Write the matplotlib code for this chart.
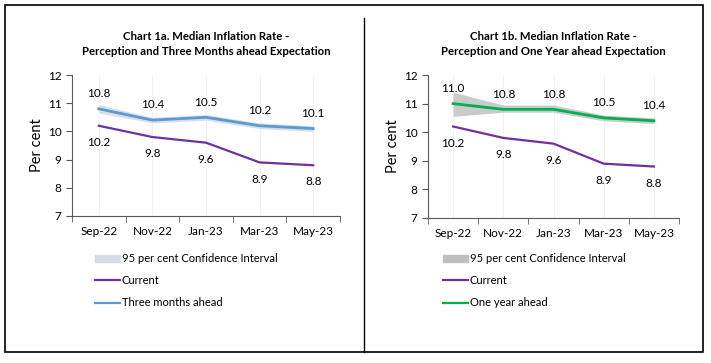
import numpy as np
import matplotlib
matplotlib.use('Agg')
import matplotlib.pyplot as plt
from matplotlib.patches import Rectangle
from matplotlib.lines import Line2D

plt.rcParams['font.family'] = ['Lato', 'DejaVu Sans']

## Data
months = ['Sep-22', 'Nov-22', 'Jan-23', 'Mar-23', 'May-23']
current = [10.2, 9.8, 9.6, 8.9, 8.8]
three_m = [10.8, 10.4, 10.5, 10.2, 10.1]
three_m_lo = [10.65, 10.3, 10.4, 10.1, 10.0]
three_m_hi = [10.95, 10.5, 10.6, 10.3, 10.2]
one_y = [11.0, 10.8, 10.8, 10.5, 10.4]
one_y_lo = [10.55, 10.7, 10.7, 10.4, 10.3]
one_y_hi = [11.4, 10.95, 10.95, 10.6, 10.5]

titles = ['Chart 1a. Median Inflation Rate -\nPerception and Three Months ahead Expectation',
          'Chart 1b. Median Inflation Rate -\nPerception and One Year ahead Expectation']
exp_names = ['Three months ahead', 'One year ahead']

c_cur = '#7030A0'
c_exp = ['#5B9BD5', '#00B050']
c_band = ['#D6DCE5', '#BFBFBF']

W, H = 711, 363
fig = plt.figure(figsize=(W / 100, H / 100), dpi=100)

def px(x0, y0, x1, y1):
    # pixel box (top-left origin) -> figure fraction
    return [x0 / W, 1 - y1 / H, (x1 - x0) / W, (y1 - y0) / H]

boxes = [px(72, 75, 340, 216), px(428, 75, 679, 218)]
exp_data = [(three_m, three_m_lo, three_m_hi), (one_y, one_y_lo, one_y_hi)]
leg_x = [95, 443]

for i in range(2):
    ax = fig.add_axes(boxes[i])
    x = np.arange(len(months))
    ev, lo, hi = exp_data[i]
    ax.fill_between(x, lo, hi, color=c_band[i], lw=0, alpha=0.9 if i == 0 else 0.8)
    ax.plot(x, current, color=c_cur, lw=1.6)
    ax.plot(x, ev, color=c_exp[i], lw=2.0)
    for xi, v in zip(x, ev):
        ax.annotate('%.1f' % v, (xi, v), xytext=(0, 11), textcoords='offset points',
                    ha='center', va='center', fontsize=8.5)
    for xi, v in zip(x, current):
        ax.annotate('%.1f' % v, (xi, v), xytext=(0, -12), textcoords='offset points',
                    ha='center', va='center', fontsize=8.5)
    ax.set_xlim(-0.5, 4.5)
    ax.set_ylim(7, 12)
    ax.set_yticks(range(7, 13))
    ax.set_xticks(x)
    ax.set_xticklabels(months)
    ax.set_xticks(np.arange(-0.5, 5, 1), minor=True)
    ax.tick_params(axis='x', which='major', length=0, labelsize=8.5, pad=7)
    ax.tick_params(axis='x', which='minor', length=4, direction='out', color='#595959')
    ax.tick_params(axis='y', length=4, color='#595959', labelsize=8.5)
    for xi in x:
        ax.axvline(xi, color='#F2F2F2', lw=0.8, zorder=0)
    for s in ['top', 'right']:
        ax.spines[s].set_visible(False)
    for s in ['left', 'bottom']:
        ax.spines[s].set_color('#595959')
    ax.set_ylabel('Per cent', fontsize=10.5, labelpad=3)
    cx = (boxes[i][0] + boxes[i][2] / 2) * W
    fig.text(cx / W, 1 - 44 / H, titles[i], ha='center', va='center',
             fontsize=8.2, fontweight='bold', linespacing=1.45)

    # legend
    lx = leg_x[i]
    fig.patches.append(Rectangle((lx / W, 1 - 262 / H), 25 / W, 7 / H,
                                 transform=fig.transFigure, color=c_band[i]))
    fig.text((lx + 27) / W, 1 - 258 / H, '95 per cent Confidence Interval',
             va='center', fontsize=8.0)
    for yy, col, name in [(280, c_cur, 'Current'), (303, c_exp[i], exp_names[i])]:
        fig.lines.append(Line2D([lx / W, (lx + 25) / W], [1 - yy / H, 1 - yy / H],
                                transform=fig.transFigure, color=col, lw=1.6))
        fig.text((lx + 27) / W, 1 - yy / H, name, va='center', fontsize=8.0)

# frame and divider
fig.patches.append(Rectangle((5 / W, 1 - 352 / H), 698 / W, 347 / H, fill=False,
                             edgecolor='black', lw=1.2, transform=fig.transFigure))
fig.lines.append(Line2D([364 / W, 364 / W], [1 - 18 / H, 1 - 352 / H],
                        transform=fig.transFigure, color='black', lw=1.0))

fig.savefig('out.png', dpi=100)
